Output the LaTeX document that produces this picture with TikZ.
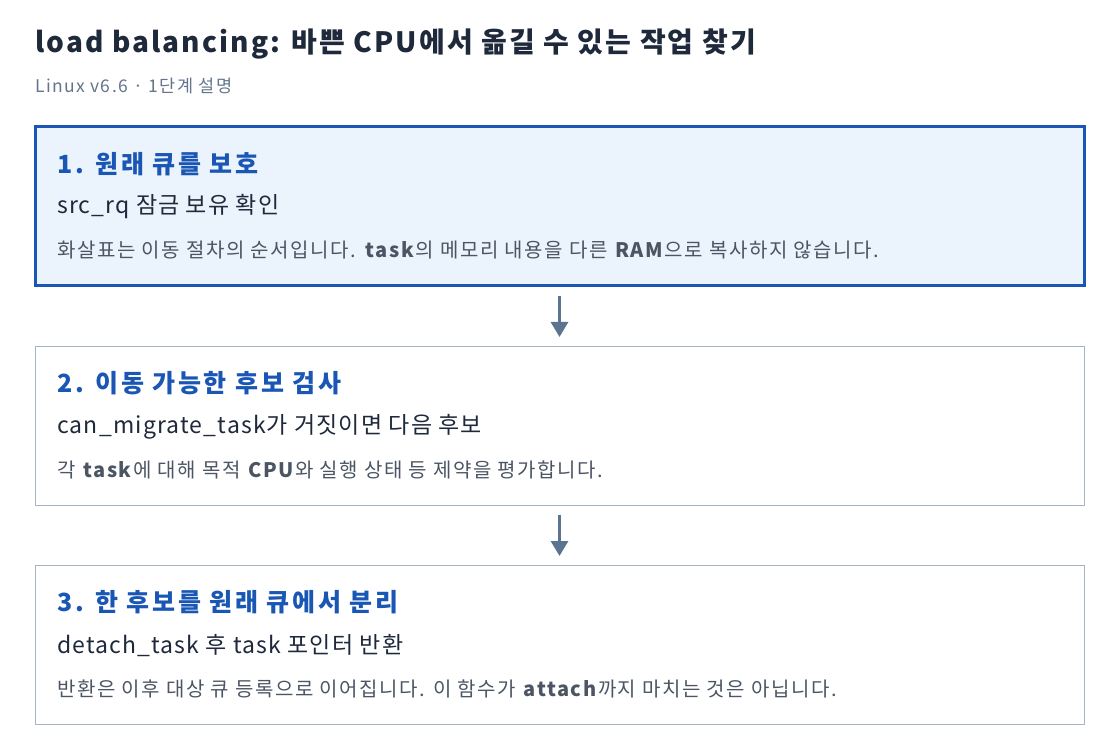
\documentclass[tikz,border=0pt]{standalone}
\usepackage{fontspec}
\setmainfont{Noto Sans CJK KR}
\newfontfamily\titlefont[LetterSpace=7.5]{Noto Sans CJK KR}
\newfontfamily\subfont[LetterSpace=8]{Noto Sans CJK KR}
\newfontfamily\headfont[LetterSpace=11]{Noto Sans CJK KR}
\newfontfamily\whatfont[LetterSpace=5]{Noto Sans CJK KR}
\newfontfamily\notefont[LetterSpace=8]{Noto Sans CJK KR}
\usetikzlibrary{positioning,arrows.meta}
\definecolor{ink}{HTML}{1E293B}
\definecolor{muted}{HTML}{64748B}
\definecolor{stepblue}{HTML}{1A56B4}
\definecolor{stepfill}{HTML}{EBF3FC}
\definecolor{edge}{HTML}{A7B4C4}
\definecolor{notegray}{HTML}{4B5563}
\definecolor{flowc}{HTML}{5B7490}
\begin{document}
\begin{tikzpicture}[x=1pt,y=-1pt,
  stepbox/.style={draw=edge,line width=1pt,minimum width=1049pt,minimum height=159pt,inner sep=0pt,outer sep=0pt},
  curbox/.style={stepbox,draw=stepblue,fill=stepfill,line width=3pt},
  head/.style={anchor=west,inner sep=0pt,font=\headfont\fontsize{25}{29}\selectfont\bfseries,text=stepblue},
  what/.style={anchor=west,inner sep=0pt,font=\whatfont\fontsize{23}{27}\selectfont,text=ink},
  note/.style={anchor=west,inner sep=0pt,font=\notefont\fontsize{20}{24}\selectfont,text=notegray},
  flow/.style={line width=3pt,draw=flowc,-{Triangle[length=15pt,width=17pt]},shorten <=10pt,shorten >=9pt}]
\useasboundingbox (0,0) rectangle (1120,754);
\node[anchor=west,inner sep=0pt,font=\titlefont\fontsize{28}{32}\selectfont\bfseries,text=ink] (title) at (35,44) {load balancing: 바쁜 CPU에서 옮길 수 있는 작업 찾기};
\node[anchor=west,inner sep=0pt,font=\subfont\fontsize{17.5}{21}\selectfont,text=muted] (subtitle) at (35,86) {Linux v6.6 · 1단계 설명};
\node[curbox] (step1) at (559.5,206.5) {};
\node[stepbox,below=60pt of step1] (step2) {};
\node[stepbox,below=60pt of step2] (step3) {};
\node[head] (h1) at ([shift={(22,37)}]step1.north west) {1. 원래 큐를 보호};
\node[what] (w1) at ([shift={(22,80)}]step1.north west) {src\_rq 잠금 보유 확인};
\node[note] (n1) at ([shift={(22,123)}]step1.north west) {화살표는 이동 절차의 순서입니다. \textbf{task}의 메모리 내용을 다른 \textbf{RAM}으로 복사하지 않습니다.};
\node[head] (h2) at ([shift={(22,37)}]step2.north west) {2. 이동 가능한 후보 검사};
\node[what] (w2) at ([shift={(22,81)}]step2.north west) {can\_migrate\_task가 거짓이면 다음 후보};
\node[note] (n2) at ([shift={(22,124)}]step2.north west) {각 \textbf{task}에 대해 목적 \textbf{CPU}와 실행 상태 등 제약을 평가합니다.};
\node[head] (h3) at ([shift={(22,37)}]step3.north west) {3. 한 후보를 원래 큐에서 분리};
\node[what] (w3) at ([shift={(22,81)}]step3.north west) {detach\_task 후 task 포인터 반환};
\node[note] (n3) at ([shift={(22,124)}]step3.north west) {반환은 이후 대상 큐 등록으로 이어집니다. 이 함수가 \textbf{attach}까지 마치는 것은 아닙니다.};
\draw[flow] (step1) -- (step2);
\draw[flow] (step2) -- (step3);
\end{tikzpicture}
\end{document}
